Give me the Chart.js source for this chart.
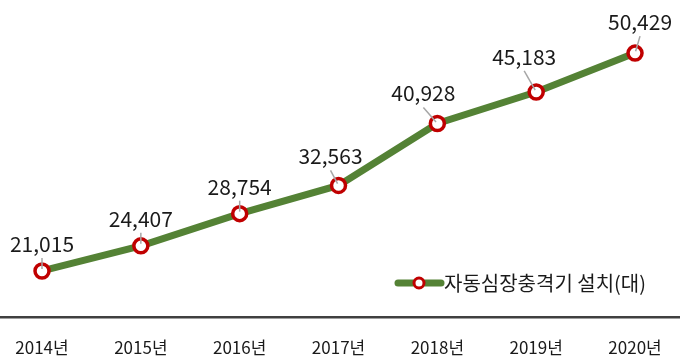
<!DOCTYPE html>
<html><head><meta charset="utf-8">
<script src="https://cdn.jsdelivr.net/npm/chart.js@4/dist/chart.umd.min.js"></script>
<style>html,body{margin:0;padding:0;background:#fff}#wrap{width:680px;height:362px}</style>
</head><body><div id="wrap"><canvas id="c" width="680" height="362"></canvas></div>
<script>
const categories = ["2014년","2015년","2016년","2017년","2018년","2019년","2020년"];
const values = [21015, 24407, 28754, 32563, 40928, 45183, 50429];
const seriesName = "자동심장충격기 설치(대)";

const FONT = '"Noto Sans CJK KR", "Noto Sans", sans-serif';
const labelShift = [[0,-27],[0,-27],[0,-27],[-8,-29],[-14,-30],[-12,-35],[5,-31]];

const labelPlugin = {
  id: 'vlabels',
  afterDatasetsDraw(chart) {
    const ctx = chart.ctx;
    const meta = chart.getDatasetMeta(0);
    ctx.save();
    meta.data.forEach((pt, i) => {
      const [dx, dy] = labelShift[i];
      const lx = pt.x + dx, ly = pt.y + dy;
      const ex = lx, ey = ly + 14;
      const len = Math.hypot(ex - pt.x, ey - pt.y);
      ctx.strokeStyle = '#a6a6a6';
      ctx.lineWidth = 1.5;
      ctx.beginPath();
      ctx.moveTo(pt.x + (ex - pt.x) / len * 2, pt.y + (ey - pt.y) / len * 2);
      ctx.lineTo(ex, ey);
      ctx.stroke();
      ctx.fillStyle = '#1a1a1a';
      ctx.font = '21px ' + FONT;
      ctx.textAlign = 'center';
      ctx.textBaseline = 'middle';
      ctx.fillText(values[i].toLocaleString('en-US'), lx, ly);
    });
    const y = 283, x0 = 398;
    ctx.strokeStyle = '#548235';
    ctx.lineWidth = 7;
    ctx.lineCap = 'round';
    ctx.beginPath(); ctx.moveTo(x0, y); ctx.lineTo(x0 + 43, y); ctx.stroke();
    ctx.beginPath(); ctx.arc(x0 + 21, y, 5, 0, Math.PI * 2);
    ctx.fillStyle = '#fff'; ctx.fill();
    ctx.strokeStyle = '#c00000'; ctx.lineWidth = 3; ctx.stroke();
    ctx.fillStyle = '#1a1a1a';
    ctx.font = '20px ' + FONT;
    ctx.textAlign = 'left'; ctx.textBaseline = 'middle';
    ctx.fillText(seriesName, x0 + 46, y);
    ctx.restore();
  }
};

new Chart(document.getElementById('c'), {
  type: 'line',
  data: {
    labels: categories,
    datasets: [{
      label: seriesName,
      data: values.map((v, i) => ({x: i, y: v})),
      borderColor: '#548235',
      borderWidth: 7,
      pointRadius: 7,
      pointBorderWidth: 3.5,
      pointBackgroundColor: '#ffffff',
      pointBorderColor: '#c00000',
      tension: 0
    }]
  },
  options: {
    responsive: false,
    animation: false,
    layout: {padding: 0, autoPadding: false},
    plugins: {legend: {display: false}, tooltip: {enabled: false}},
    scales: {
      x: {
        type: 'linear',
        min: -0.425, max: 6.455,
        afterFit(s) { s.height = 45; s.paddingLeft = 0; s.paddingRight = 0; },
        afterBuildTicks(s) { s.ticks = categories.map((c, i) => ({value: i})); },
        grid: {display: false, drawTicks: false},
        border: {display: true, color: '#404040', width: 2.5},
        ticks: {
          callback: (v) => categories[v],
          font: {family: FONT, size: 17},
          color: '#1a1a1a',
          padding: 20,
          maxRotation: 0,
          autoSkip: false
        }
      },
      y: {
        display: false,
        min: 14800, max: 57600
      }
    }
  },
  plugins: [labelPlugin]
});
</script>
</body></html>
